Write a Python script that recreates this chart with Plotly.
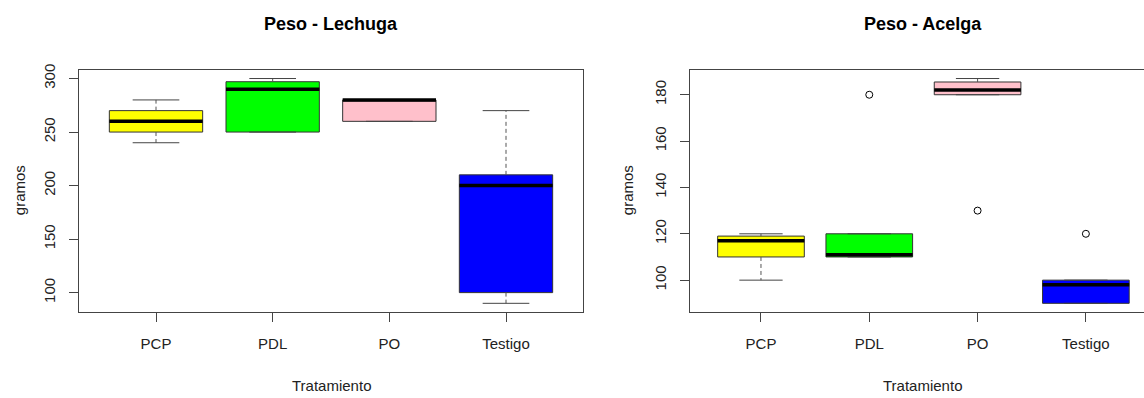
import plotly.graph_objects as go

# ---------------- data ----------------
categories = ["PCP", "PDL", "PO", "Testigo"]
positions = [1, 2, 3, 4]
box_colors = ["#FFFF00", "#00FF00", "#FFC0CB", "#0000FF"]

# Peso - Lechuga
lech_lower = [240, 250, 260, 90]
lech_q1 = [250, 250, 260, 100]
lech_median = [260, 290, 280, 200]
lech_q3 = [270, 297, 280, 210]
lech_upper = [280, 300, 280, 270]
lech_out_x = []
lech_out_y = []

# Peso - Acelga
acel_lower = [100, 110, 180, 90]
acel_q1 = [110, 110, 180, 90]
acel_median = [117, 111, 182, 98]
acel_q3 = [119, 120, 185.5, 100]
acel_upper = [120, 120, 187, 100]
acel_out_x = [2, 3, 4]
acel_out_y = [180, 130, 120]

lech_yticks = [100, 150, 200, 250, 300]
acel_yticks = [100, 120, 140, 160, 180]

W, H = 1144, 398
FONT = "Liberation Sans, Arial, sans-serif"
FRAME = "#444444"

fig = go.Figure()


def add_panel(xa, ya, lower, q1, med, q3, upper, ox, oy):
    xref = "x" if xa == "x1" else xa
    yref = "y" if ya == "y1" else ya
    wx, wy, sx, sy, mx, my = [], [], [], [], [], []
    for p, lo, a, m, b, up in zip(positions, lower, q1, med, q3, upper):
        wx += [p, p, None, p, p, None]
        wy += [b, up, None, a, lo, None]
        sx += [p - 0.2, p + 0.2, None, p - 0.2, p + 0.2, None]
        sy += [up, up, None, lo, lo, None]
        mx += [p - 0.4, p + 0.4, None]
        my += [m, m, None]
    fig.add_trace(go.Scatter(x=wx, y=wy, mode="lines", xaxis=xref, yaxis=yref,
                             line=dict(color="#555555", width=1, dash="4px,3px"),
                             hoverinfo="skip", showlegend=False))
    fig.add_trace(go.Scatter(x=sx, y=sy, mode="lines", xaxis=xref, yaxis=yref,
                             line=dict(color=FRAME, width=1),
                             hoverinfo="skip", showlegend=False))
    for p, a, m, b, c in zip(positions, q1, med, q3, box_colors):
        fig.add_trace(go.Box(x=[p], q1=[a], median=[m], q3=[b],
                             lowerfence=[a], upperfence=[b], width=0.8,
                             whiskerwidth=0, fillcolor=c,
                             line=dict(color="#333333", width=1),
                             xaxis=xref, yaxis=yref, hoverinfo="skip",
                             showlegend=False))
    fig.add_trace(go.Scatter(x=mx, y=my, mode="lines", xaxis=xref, yaxis=yref,
                             line=dict(color="black", width=3.5),
                             hoverinfo="skip", showlegend=False))
    if ox:
        fig.add_trace(go.Scatter(x=ox, y=oy, mode="markers", xaxis=xref, yaxis=yref,
                                 marker=dict(symbol="circle-open", size=7,
                                             color="black", line=dict(width=1)),
                                 hoverinfo="skip", showlegend=False))


add_panel("x1", "y1", lech_lower, lech_q1, lech_median, lech_q3, lech_upper,
          lech_out_x, lech_out_y)
add_panel("x2", "y2", acel_lower, acel_q1, acel_median, acel_q3, acel_upper,
          acel_out_x, acel_out_y)


def yr(lo, hi):
    d = (hi - lo) * 0.04
    return [lo - d, hi + d]


ydom = [(H - 311) / H, (H - 64.5) / H]
axis_common = dict(showgrid=False, zeroline=False, showline=True, linecolor=FRAME,
                   linewidth=1, ticks="outside", ticklen=9, tickcolor=FRAME,
                   tickfont=dict(family=FONT, size=15, color="#222222"))

fig.update_layout(
    width=W, height=H, margin=dict(l=0, r=0, t=0, b=0),
    paper_bgcolor="white", plot_bgcolor="white", showlegend=False,
    xaxis=dict(domain=[79 / W, 583 / W], range=[0.34, 4.66], tickvals=positions,
               ticktext=categories, mirror=True, anchor="y",
               ticklabelstandoff=9, **axis_common),
    yaxis=dict(domain=ydom, range=yr(min(lech_lower), max(lech_upper)),
               tickvals=lech_yticks, tickangle=-90, mirror=True, anchor="x",
               ticklabelstandoff=8, **axis_common),
    xaxis2=dict(domain=[689.5 / W, 1.0], range=[0.34, 0.34 + (W - 689.5) / 108.3],
                tickvals=positions, ticktext=categories, mirror=True, anchor="y2",
                ticklabelstandoff=9, **axis_common),
    yaxis2=dict(domain=ydom, range=yr(min(acel_lower + acel_out_y), max(acel_upper + acel_out_y)),
                tickvals=acel_yticks, tickangle=-90, mirror=False, anchor="x2",
                ticklabelstandoff=8, **axis_common),
)

ann = dict(xref="paper", yref="paper", showarrow=False, xanchor="center", yanchor="middle")
fig.add_annotation(text="<b>Peso - Lechuga</b>", x=331 / W, y=1 - 18 / H,
                   font=dict(family=FONT, size=18, color="black"), **ann)
fig.add_annotation(text="<b>Peso - Acelga</b>", x=923 / W, y=1 - 18 / H,
                   font=dict(family=FONT, size=18, color="black"), **ann)
for xc in (331, 922):
    fig.add_annotation(text="Tratamiento", x=xc / W, y=1 - 385 / H,
                       font=dict(family=FONT, size=15, color="#222222"), **ann)
for xc in (19, 627):
    fig.add_annotation(text="gramos", x=xc / W, y=1 - 187 / H, textangle=-90,
                       font=dict(family=FONT, size=15, color="#222222"), **ann)

fig.write_html("out.html", config={"displayModeBar": False})

# remove the default page margin so the figure sits at the window's top-left
with open("out.html", encoding="utf-8") as f:
    html = f.read()
html = html.replace("<head>", "<head><style>html,body{margin:0;padding:0;overflow:hidden;}</style>", 1)
with open("out.html", "w", encoding="utf-8") as f:
    f.write(html)
